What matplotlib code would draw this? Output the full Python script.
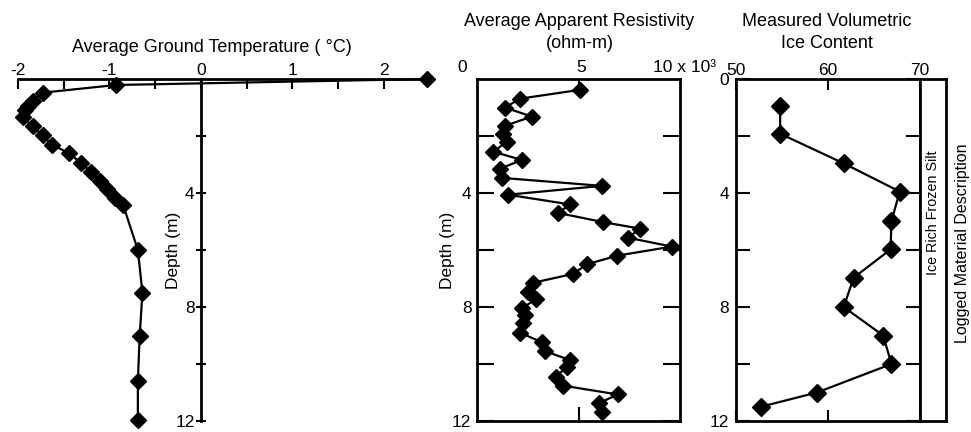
import numpy as np
import matplotlib.pyplot as plt
from matplotlib.ticker import FixedLocator

plt.rcParams['font.family'] = ['Liberation Sans', 'DejaVu Sans']
plt.rcParams['font.size'] = 12.5

# ---------------- data ----------------
temp_depth = [0.0, 0.21, 0.48, 0.78, 0.93, 1.1, 1.34, 1.66, 1.98, 2.3, 2.61,
              2.95, 3.27, 3.58, 3.87, 4.16, 4.43, 6.0, 7.5, 9.0, 10.6, 11.95]
temp = [2.47, -0.93, -1.73, -1.84, -1.89, -1.92, -1.95, -1.84, -1.73, -1.63, -1.44,
        -1.31, -1.2, -1.1, -1.03, -0.94, -0.85, -0.69, -0.64, -0.67, -0.69, -0.69]

res_depth = [0.38, 0.69, 1.0, 1.32, 1.64, 1.92, 2.2, 2.55, 2.84, 3.15,
             3.47, 3.75, 4.06, 4.4, 4.7, 5.02, 5.25, 5.57, 5.88, 6.2,
             6.5, 6.84, 7.15, 7.48, 7.73, 8.04, 8.28, 8.56, 8.9, 9.24,
             9.55, 9.86, 10.1, 10.44, 10.76, 11.07, 11.37, 11.68]
res = [5.07, 2.12, 1.38, 2.7, 1.38, 1.28, 1.48, 0.8, 2.2, 1.13,
       1.23, 6.16, 1.53, 4.58, 4.0, 6.2, 8.03, 7.44, 9.6, 6.9,
       5.42, 4.73, 2.76, 2.51, 2.9, 2.22, 2.36, 2.27, 2.12, 3.2,
       3.35, 4.58, 4.43, 3.89, 4.24, 6.95, 6.0, 6.16]

ice_depth = [0.95, 1.92, 2.96, 3.95, 4.98, 5.98, 6.97, 8.0, 9.0, 10.0, 11.0, 11.5]
ice = [54.8, 54.8, 61.7, 67.8, 66.9, 66.8, 62.8, 61.7, 66.0, 66.9, 58.8, 52.7]

temp_ticks = [-2, -1, 0, 1, 2]
temp_labels = ['-2', '-1', '0', '1', '2']

W, H = 971, 432
TOP, BOT = 79, 421
fig = plt.figure(figsize=(W / 100, H / 100), dpi=100)


def box(x0, x1, y0=TOP, y1=BOT):
    # pixel rectangle -> figure fraction
    return [x0 / W, 1 - y1 / H, (x1 - x0) / W, (y1 - y0) / H]


def ftext(x, y, s, **kw):
    # text placed by pixel position
    return fig.text(x / W, 1 - y / H, s, ha=kw.pop('ha', 'center'),
                    va=kw.pop('va', 'center'), **kw)


lw = 1.6
ms = 8.5
tsize = 13

# ---------------- panel 1: temperature ----------------
ax1 = fig.add_axes(box(18, 427))
ax1.plot(temp, temp_depth, color='black', lw=lw, marker='D', ms=ms - 0.5, clip_on=False)
ax1.set_xlim(-2, 2.47)
ax1.set_ylim(12, 0)
ax1.spines['left'].set_position(('data', 0))
ax1.spines['right'].set_visible(False)
ax1.spines['bottom'].set_visible(False)
for s in ['left', 'top']:
    ax1.spines[s].set_linewidth(2)
ax1.xaxis.set_ticks_position('top')
ax1.set_xticks(temp_ticks, temp_labels)
ax1.xaxis.set_minor_locator(FixedLocator([-1.5, -0.5, 0.5, 1.5]))
ax1.tick_params(axis='x', which='both', direction='in', length=7, width=1.5, pad=1)
ax1.set_yticks([4, 8, 12])
ax1.yaxis.set_minor_locator(FixedLocator([2, 6, 10]))
ax1.tick_params(axis='y', which='both', direction='inout', length=7, width=1.5, pad=1)
ftext(173, 250, 'Depth (m)', rotation=90)
ftext(212, 47, 'Average Ground Temperature ( °C)', fontsize=tsize)

# ---------------- panel 2: resistivity ----------------
ax2 = fig.add_axes(box(477, 680))
ax2.plot(res, res_depth, color='black', lw=lw, marker='D', ms=ms, clip_on=False)
ax2.set_xlim(0, 10)
ax2.set_ylim(12, 0)
for s in ax2.spines.values():
    s.set_linewidth(2)
ax2.set_xticks([5], [''])
ax2.tick_params(axis='x', which='both', top=True, bottom=True, direction='in',
                length=10, width=1.5)
ax2.set_yticks([2, 4, 6, 8, 10, 12], ['', '4', '', '8', '', '12'])
ax2.tick_params(axis='y', which='both', left=True, right=True, direction='in',
                length=12, width=1.5, pad=4)
ftext(447, 250, 'Depth (m)', rotation=90)
ftext(462, 67, '0')
ftext(581, 67, '5')
ftext(653, 67, '10 x 10³', ha='left')
ftext(579, 22, 'Average Apparent Resistivity', fontsize=tsize)
ftext(580, 44, '(ohm-m)', fontsize=tsize)

# ---------------- panel 3: ice content ----------------
ax3 = fig.add_axes(box(736, 920))
ax3.plot(ice, ice_depth, color='black', lw=lw, marker='D', ms=ms + 0.5, clip_on=False)
ax3.set_xlim(50, 70)
ax3.set_ylim(12, 0)
for s in ax3.spines.values():
    s.set_linewidth(2)
ax3.xaxis.set_ticks_position('top')
ax3.set_xticks([50, 60, 70], ['50', '60', '70'])
ax3.tick_params(axis='x', which='both', top=True, bottom=True, direction='in',
                length=8, width=1.5, pad=1)
ax3.set_xticks([60], minor=True)
ax3.set_yticks([0, 2, 4, 6, 8, 10, 12], ['0', '', '4', '', '8', '', '12'])
ax3.tick_params(axis='y', which='both', left=True, right=True, direction='in',
                length=10, width=1.5, pad=5)
ftext(827, 22, 'Measured Volumetric', fontsize=tsize)
ftext(827, 43, 'Ice Content', fontsize=tsize)

# ---------------- strip: logged material ----------------
ax4 = fig.add_axes(box(920, 946))
ax4.set_xlim(0, 1)
ax4.set_ylim(12, 0)
for s in ax4.spines.values():
    s.set_linewidth(2)
ax4.set_xticks([])
ax4.set_yticks([])
ftext(933, 213, 'Ice Rich Frozen Silt', rotation=90, fontsize=10.3)
ftext(962, 243, 'Logged Material Description', rotation=90, fontsize=11.5)

fig.savefig('out.png', dpi=100)
